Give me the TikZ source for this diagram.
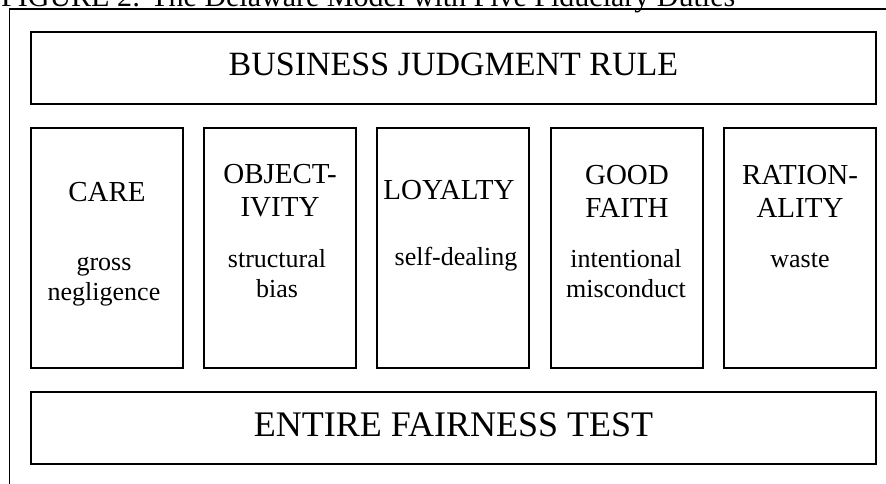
\documentclass[tikz,border=0pt]{standalone}
\usepackage{fontspec}
\setmainfont{Liberation Serif}

\tikzset{
  band/.style={draw, line width=1.5pt, minimum width=845pt, minimum height=72pt,
    inner sep=0pt, text height=23pt, text depth=7pt},
  duty/.style={draw, line width=1.5pt, minimum width=152pt, minimum height=240pt, inner sep=0pt},
  head/.style={align=center, inner sep=0pt, font=\fontsize{29}{33}\selectfont},
  % base of a two-line text is its last line
  test/.style={align=center, inner sep=0pt, anchor=base, font=\fontsize{26}{30}\selectfont},
}

\begin{document}
\begin{tikzpicture}[x=1pt,y=-1pt]
        \useasboundingbox (0,0) rectangle (886,484);
        % caption, cut off by the page edge
        \node[anchor=base west, inner sep=0pt, font=\fontsize{30}{30}\selectfont] (caption) at (1,7)
          {FIGURE 2: The Delaware Model with Five Fiduciary Duties};
        \draw[line width=1.2pt] (9.5,500) |- (900,9);

        \node[band, font=\fontsize{34}{34}\selectfont] at (453.5,68) (bjr) {BUSINESS JUDGMENT RULE};
        \node[band, font=\fontsize{36}{36}\selectfont, text height=24pt, text depth=8pt] at (453.5,428) (eft) {ENTIRE FAIRNESS TEST};

        \node[duty] at (107,248) (care) {};
        \node[duty] at (280,248) (obj) {};
        \node[duty] at (453,248) (loy) {};
        \node[duty] at (627,248) (gf) {};
        \node[duty] at (800,248) (rat) {};

        \node[head] at (107,192) (careH) {CARE};
        \node[head] at (280,191) (objH) {OBJECT-\\IVITY};
        \node[head] at (449,190) (loyH) {LOYALTY};
        \node[head] at (627,191) (gfH) {GOOD\\FAITH};
        \node[head] at (800,191) (ratH) {RATION-\\ALITY};

        \node[test] at (104,300) (careT) {gross\\negligence};
        \node[test] at (277,297) (objT) {structural\\bias};
        \node[test] at (456,265) (loyT) {self-dealing};
        \node[test] at (626,297) (gfT) {intentional\\misconduct};
        \node[test] at (800,267) (ratT) {waste};
      \end{tikzpicture}
\end{document}
